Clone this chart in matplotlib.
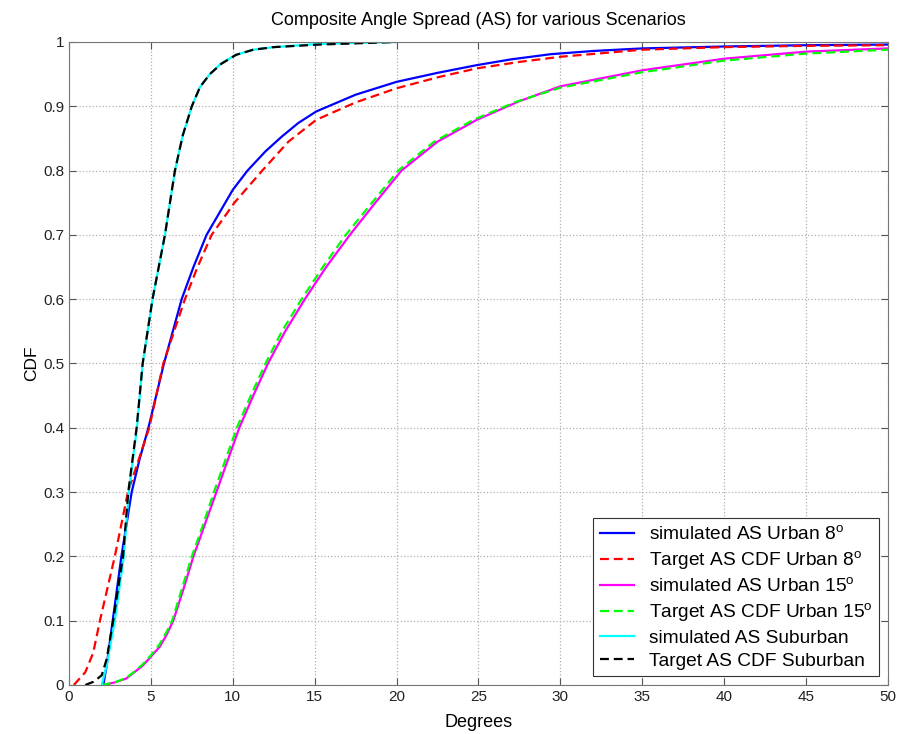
import matplotlib
matplotlib.use("Agg")
import matplotlib.pyplot as plt

plt.rcParams['font.family'] = ['Liberation Sans', 'DejaVu Sans']
plt.rcParams['mathtext.fontset'] = 'custom'
plt.rcParams['mathtext.rm'] = 'Liberation Sans'

# values
u8_sim_x = [2.1, 2.3, 2.67, 3.2, 3.83, 4.3, 4.85, 5.8, 6.88, 7.6, 8.4, 9.2, 10.0, 10.9, 12.0, 13.0,
            14.0, 15.1, 17.5, 20.0, 22.5, 24.9, 27.0, 29.4, 32.0, 35.0, 40.0, 45.0, 50.0]
u8_sim_y = [0.0, 0.03, 0.1, 0.2, 0.3, 0.35, 0.4, 0.5, 0.6, 0.65, 0.7, 0.735, 0.77, 0.8, 0.83, 0.853,
            0.874, 0.892, 0.918, 0.938, 0.952, 0.964, 0.973, 0.981, 0.986, 0.990, 0.993, 0.995, 0.996]

u8_tgt_x = [0.3, 1.0, 1.48, 1.89, 2.8, 3.6, 4.25, 4.9, 5.76, 7.08, 7.85, 8.71, 10.1, 11.8, 13.4,
            15.1, 17.5, 20.0, 22.5, 24.9, 27.5, 30.0, 35.0, 40.0, 45.0, 50.0]
u8_tgt_y = [0.0, 0.02, 0.05, 0.1, 0.2, 0.3, 0.35, 0.4, 0.5, 0.6, 0.65, 0.7, 0.75, 0.8, 0.845,
            0.879, 0.906, 0.928, 0.945, 0.959, 0.969, 0.977, 0.988, 0.992, 0.994, 0.995]

u15_sim_x = [2.1, 2.8, 3.5, 4.0, 4.5, 5.0, 5.56, 6.0, 6.37, 7.0, 7.6, 8.3, 9.0, 9.7, 10.4, 11.25,
             12.15, 13.2, 14.4, 15.7, 17.15, 18.7, 20.3, 22.5, 24.9, 27.5, 30.0, 35.0, 40.0, 45.0, 50.0]
u15_sim_y = [0.0, 0.004, 0.01, 0.02, 0.03, 0.044, 0.06, 0.08, 0.1, 0.15, 0.2, 0.25, 0.3, 0.35, 0.4, 0.45,
             0.5, 0.55, 0.6, 0.65, 0.7, 0.75, 0.8, 0.845, 0.879, 0.908, 0.931, 0.956, 0.974, 0.985, 0.990]

u15_tgt_x = [2.0, 2.8, 3.5, 4.0, 4.5, 5.0, 5.5, 5.95, 6.3, 6.9, 7.5, 8.2, 8.85, 9.55, 10.25, 11.1,
             12.0, 13.0, 14.2, 15.5, 16.9, 18.5, 20.1, 22.3, 24.7, 27.3, 30.0, 35.0, 40.0, 45.0, 50.0]
u15_tgt_y = [0.0, 0.004, 0.011, 0.021, 0.032, 0.046, 0.062, 0.082, 0.1, 0.15, 0.2, 0.25, 0.3, 0.35, 0.4, 0.45,
             0.5, 0.55, 0.6, 0.65, 0.7, 0.75, 0.8, 0.845, 0.879, 0.907, 0.929, 0.953, 0.971, 0.982, 0.988]

sub_sim_x = [2.0, 2.3, 2.8, 3.35, 3.65, 4.15, 4.5, 5.1, 5.86, 6.47, 6.95, 7.5, 8.0, 8.6, 9.3, 10.2,
             11.25, 12.5, 15.3, 20.0]
sub_sim_y = [0.0, 0.03, 0.1, 0.2, 0.3, 0.4, 0.5, 0.6, 0.7, 0.8, 0.855, 0.9, 0.93, 0.95, 0.967, 0.98,
             0.988, 0.992, 0.997, 1.0]

sub_tgt_x = [1.0, 1.5, 2.0, 2.3, 2.7, 3.3, 3.62, 4.13, 4.5, 5.1, 5.86, 6.47, 6.95, 7.5, 8.0, 8.6,
             9.3, 10.2, 11.25, 12.5, 15.3, 20.0]
sub_tgt_y = [0.0, 0.005, 0.015, 0.04, 0.1, 0.2, 0.3, 0.4, 0.5, 0.6, 0.7, 0.8, 0.855, 0.9, 0.93, 0.95,
             0.966, 0.98, 0.988, 0.992, 0.996, 1.0]

labels = ['simulated AS Urban 8$^\\mathrm{o}$', 'Target AS CDF Urban 8$^\\mathrm{o}$',
          'simulated AS Urban 15$^\\mathrm{o}$', 'Target AS CDF Urban 15$^\\mathrm{o}$',
          'simulated AS Suburban', 'Target AS CDF Suburban']

fig = plt.figure(figsize=(9.05, 7.34), dpi=100)
ax = fig.add_axes([0.0762, 0.0668, 0.9812 - 0.0762, 0.9428 - 0.0668])

lw = 1.6
dash = (4, 2.2)
ax.plot(u8_sim_x, u8_sim_y, color='#0000ff', lw=lw, label=labels[0])
ax.plot(u8_tgt_x, u8_tgt_y, color='#ff0000', lw=lw, dashes=dash, label=labels[1])
ax.plot(u15_sim_x, u15_sim_y, color='#ff00ff', lw=lw, label=labels[2])
ax.plot(u15_tgt_x, u15_tgt_y, color='#00ff00', lw=lw, dashes=dash, label=labels[3])
ax.plot(sub_sim_x, sub_sim_y, color='#00ffff', lw=lw, label=labels[4])
ax.plot(sub_tgt_x, sub_tgt_y, color='#000000', lw=lw, dashes=dash, label=labels[5])

ax.set_xlim(0, 50)
ax.set_ylim(0, 1)
ax.set_xticks(range(0, 51, 5))
ax.set_yticks([i / 10 for i in range(11)])
ax.set_yticklabels(['0', '0.1', '0.2', '0.3', '0.4', '0.5', '0.6', '0.7', '0.8', '0.9', '1'])
ax.tick_params(direction='in', top=True, right=True, length=5, labelsize=11, colors='#555555',
               labelcolor='#222222')
ax.grid(True, color='#b0b0b0', linestyle=':', linewidth=0.9)
for s in ax.spines.values():
    s.set_color('#777777')

ax.set_title('Composite Angle Spread (AS) for various Scenarios', fontsize=13, pad=12)
ax.set_xlabel('Degrees', fontsize=13, labelpad=7)
ax.set_ylabel('CDF', fontsize=12.5, labelpad=3)

leg = ax.legend(loc='lower right', fontsize=13.8, handlelength=1.75, labelspacing=0.28,
                borderaxespad=0.45, fancybox=False, framealpha=1, borderpad=0.35,
                handletextpad=0.8)
leg.get_frame().set_edgecolor('#333333')
leg.get_frame().set_linewidth(0.8)

fig.savefig('out.png', dpi=100)
